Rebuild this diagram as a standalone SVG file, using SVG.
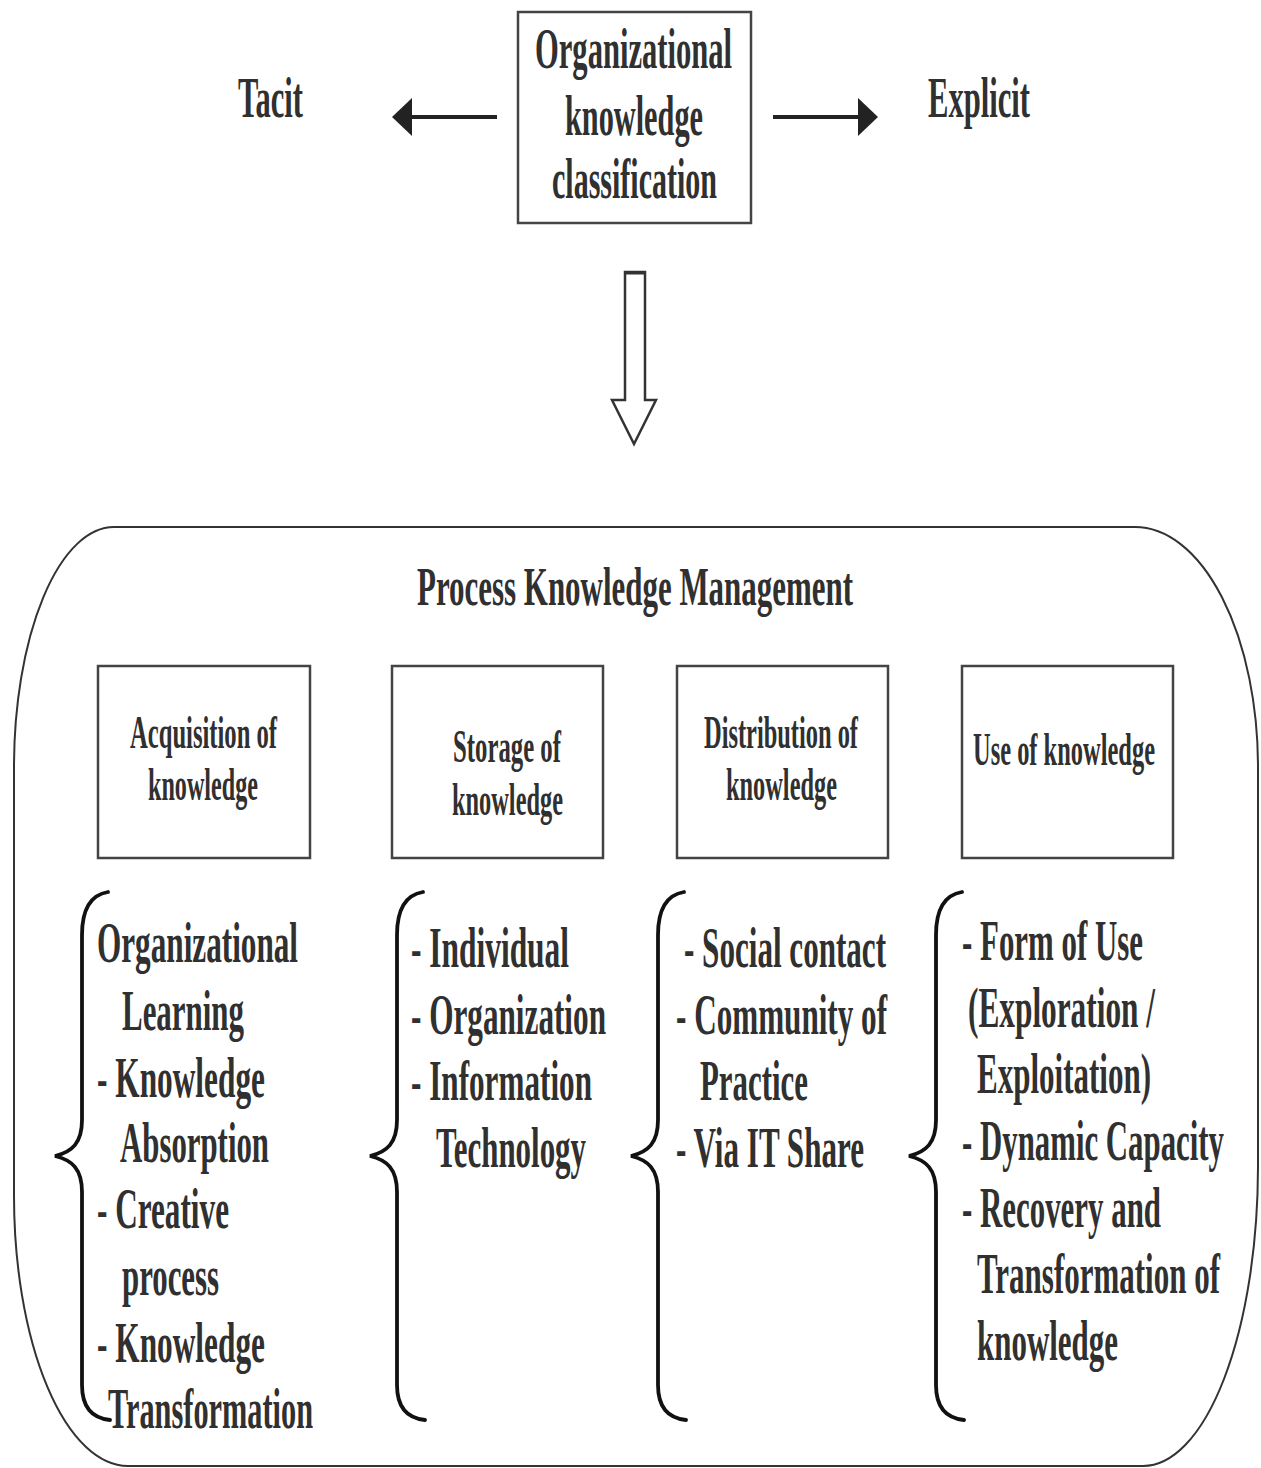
<svg xmlns="http://www.w3.org/2000/svg" xmlns:xlink="http://www.w3.org/1999/xlink" width="1261" height="1468" viewBox="0 0 1261 1468">
<style>
  .t { font-family: "Liberation Serif", "Times New Roman", serif; font-weight: bold; fill: #303030; }
  .big { font-size: 58px; }
  .mid { font-size: 55px; }
  .sm { font-size: 46px; }
  .box { fill: #fff; stroke: #444; stroke-width: 2.5; }
  .brace { fill: none; stroke: #111; stroke-width: 3.8; stroke-linecap: round; }
  .outer { fill: none; stroke: #333; stroke-width: 2; }
</style>
<defs>
  <marker id="ah" viewBox="0 0 20 38" refX="16" refY="19" markerWidth="20" markerHeight="38" markerUnits="userSpaceOnUse" orient="auto">
    <path d="M0,0 L20,19 L0,38 z" fill="#222"/>
  </marker>
  <path id="brace" d="M26,892 C8,895 0,910 0,935 L0,1120 C0,1143 -10,1152 -27,1156 C-10,1160 0,1169 0,1192 L0,1385 C0,1405 8,1418 28,1420"/>
</defs>

<g id="connectors">
  <line x1="497" y1="117" x2="396" y2="117" stroke="#222" stroke-width="4" marker-end="url(#ah)"/>
  <line x1="773" y1="117" x2="874" y2="117" stroke="#222" stroke-width="4" marker-end="url(#ah)"/>
  <polygon points="625,272 645,272 645,400 656,400 634,444 612,400 625,400" fill="#fff" stroke="#333" stroke-width="2.5" stroke-linejoin="miter"/>
  <line x1="625" y1="273" x2="645" y2="273" stroke="#333" stroke-width="3"/>
</g>

<g id="classification">
  <rect class="box" x="518" y="12" width="233" height="211"/>
  <text class="t big" x="535" y="68" textLength="197" lengthAdjust="spacingAndGlyphs">Organizational</text>
  <text class="t big" x="565" y="135" textLength="138" lengthAdjust="spacingAndGlyphs">knowledge</text>
  <text class="t big" x="552" y="198" textLength="165" lengthAdjust="spacingAndGlyphs">classification</text>
</g>

<g id="tacit">
  <text class="t big" x="238" y="117" textLength="65" lengthAdjust="spacingAndGlyphs">Tacit</text>
</g>
<g id="explicit">
  <text class="t big" x="928" y="117" textLength="102" lengthAdjust="spacingAndGlyphs">Explicit</text>
</g>

<g id="process-km">
  <path class="outer" d="M114,527 L1135,527 A123,240 0 0 1 1258,767 L1258,1167 A115,300 0 0 1 1143,1466 L128,1466 A114,270 0 0 1 14,1196 L14,767 A100,240 0 0 1 114,527 Z"/>
  <text class="t mid" x="417" y="605" textLength="436" lengthAdjust="spacingAndGlyphs">Process Knowledge Management</text>
</g>

<g id="acquisition">
  <rect class="box" x="98" y="666" width="212" height="192"/>
  <text class="t sm" x="130" y="748" textLength="147" lengthAdjust="spacingAndGlyphs">Acquisition of</text>
  <text class="t sm" x="148" y="800" textLength="110" lengthAdjust="spacingAndGlyphs">knowledge</text>
</g>
<g id="storage">
  <rect class="box" x="392" y="666" width="211" height="192"/>
  <text class="t sm" x="453" y="762" textLength="108" lengthAdjust="spacingAndGlyphs">Storage of</text>
  <text class="t sm" x="452" y="815" textLength="111" lengthAdjust="spacingAndGlyphs">knowledge</text>
</g>
<g id="distribution">
  <rect class="box" x="677" y="666" width="211" height="192"/>
  <text class="t sm" x="704" y="748" textLength="154" lengthAdjust="spacingAndGlyphs">Distribution of</text>
  <text class="t sm" x="726" y="800" textLength="111" lengthAdjust="spacingAndGlyphs">knowledge</text>
</g>
<g id="use">
  <rect class="box" x="962" y="666" width="211" height="192"/>
  <text class="t sm" x="973" y="765" textLength="182" lengthAdjust="spacingAndGlyphs">Use of knowledge</text>
</g>

<g id="acquisition-list">
  <use xlink:href="#brace" href="#brace" class="brace" x="82"/>
  <text class="t big" x="97" y="962" textLength="201" lengthAdjust="spacingAndGlyphs">Organizational</text>
  <text class="t big" x="122" y="1030" textLength="122" lengthAdjust="spacingAndGlyphs">Learning</text>
  <text class="t big" x="97" y="1097" textLength="168" lengthAdjust="spacingAndGlyphs">- Knowledge</text>
  <text class="t big" x="120" y="1162" textLength="149" lengthAdjust="spacingAndGlyphs">Absorption</text>
  <text class="t big" x="97" y="1228" textLength="132" lengthAdjust="spacingAndGlyphs">- Creative</text>
  <text class="t big" x="122" y="1295" textLength="97" lengthAdjust="spacingAndGlyphs">process</text>
  <text class="t big" x="97" y="1362" textLength="168" lengthAdjust="spacingAndGlyphs">- Knowledge</text>
  <text class="t big" x="108" y="1428" textLength="205" lengthAdjust="spacingAndGlyphs">Transformation</text>
</g>

<g id="storage-list">
  <use xlink:href="#brace" href="#brace" class="brace" x="397"/>
  <text class="t big" x="411" y="967" textLength="158" lengthAdjust="spacingAndGlyphs">- Individual</text>
  <text class="t big" x="411" y="1034" textLength="195" lengthAdjust="spacingAndGlyphs">- Organization</text>
  <text class="t big" x="411" y="1100" textLength="181" lengthAdjust="spacingAndGlyphs">- Information</text>
  <text class="t big" x="436" y="1167" textLength="150" lengthAdjust="spacingAndGlyphs">Technology</text>
</g>

<g id="distribution-list">
  <use xlink:href="#brace" href="#brace" class="brace" x="658"/>
  <text class="t big" x="684" y="967" textLength="202" lengthAdjust="spacingAndGlyphs">- Social contact</text>
  <text class="t big" x="676" y="1034" textLength="211" lengthAdjust="spacingAndGlyphs">- Community of</text>
  <text class="t big" x="700" y="1100" textLength="108" lengthAdjust="spacingAndGlyphs">Practice</text>
  <text class="t big" x="676" y="1167" textLength="188" lengthAdjust="spacingAndGlyphs">- Via IT Share</text>
</g>

<g id="use-list">
  <use xlink:href="#brace" href="#brace" class="brace" x="936"/>
  <text class="t big" x="962" y="960" textLength="181" lengthAdjust="spacingAndGlyphs">- Form of Use</text>
  <text class="t big" x="968" y="1027" textLength="187" lengthAdjust="spacingAndGlyphs">(Exploration /</text>
  <text class="t big" x="977" y="1093" textLength="174" lengthAdjust="spacingAndGlyphs">Exploitation)</text>
  <text class="t big" x="962" y="1160" textLength="262" lengthAdjust="spacingAndGlyphs">- Dynamic Capacity</text>
  <text class="t big" x="962" y="1227" textLength="199" lengthAdjust="spacingAndGlyphs">- Recovery and</text>
  <text class="t big" x="977" y="1293" textLength="243" lengthAdjust="spacingAndGlyphs">Transformation of</text>
  <text class="t big" x="977" y="1360" textLength="141" lengthAdjust="spacingAndGlyphs">knowledge</text>
</g>
</svg>
